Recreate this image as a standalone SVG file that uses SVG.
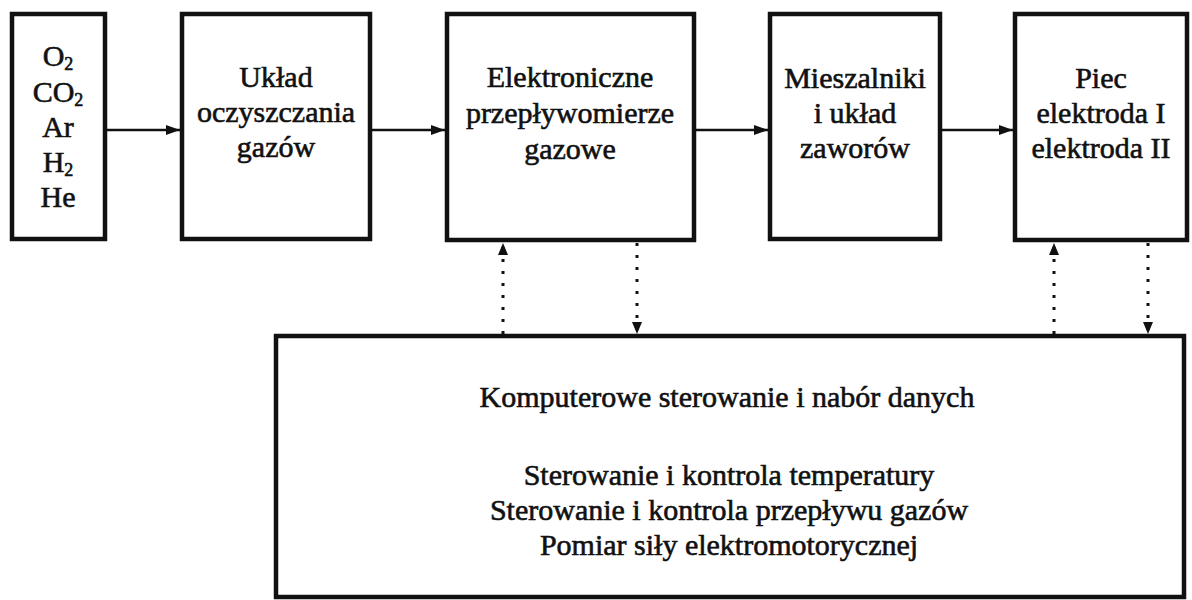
<svg xmlns="http://www.w3.org/2000/svg" width="1192" height="600" viewBox="0 0 1192 600">
<style>
.box{fill:#fff;stroke:#111;stroke-width:4.5}
.t{font-family:"Liberation Serif","Times New Roman",serif;font-size:30px;fill:#111;stroke:#111;stroke-width:0.6;text-anchor:middle}
.sub{font-size:18px}
.solid{stroke:#111;stroke-width:2.4;fill:none}
.dot{stroke:#111;stroke-width:3;fill:none;stroke-dasharray:3 9}
</style>
<defs>
<marker id="ah" viewBox="0 0 14 10" refX="14" refY="5" markerWidth="14" markerHeight="10" markerUnits="userSpaceOnUse" orient="auto">
<path d="M0,0 L14,5 L0,10 Z" fill="#111"/>
</marker>
<marker id="ahd" viewBox="0 0 12 10" refX="12" refY="5" markerWidth="12" markerHeight="10" markerUnits="userSpaceOnUse" orient="auto">
<path d="M0,0 L12,5 L0,10 Z" fill="#111"/>
</marker>
</defs>
<rect width="1192" height="600" fill="#fff"/>
<g id="connectors">
<line class="solid" x1="107" y1="130" x2="180" y2="130" marker-end="url(#ah)"/>
<line class="solid" x1="372" y1="130" x2="445" y2="130" marker-end="url(#ah)"/>
<line class="solid" x1="696" y1="130" x2="768" y2="130" marker-end="url(#ah)"/>
<line class="solid" x1="942" y1="130" x2="1013" y2="130" marker-end="url(#ah)"/>
<line class="dot" x1="503" y1="334" x2="503" y2="243" marker-end="url(#ahd)"/>
<line class="dot" x1="637" y1="243" x2="637" y2="334" marker-end="url(#ahd)"/>
<line class="dot" x1="1054" y1="334" x2="1054" y2="243" marker-end="url(#ahd)"/>
<line class="dot" x1="1148" y1="243" x2="1148" y2="334" marker-end="url(#ahd)"/>
</g>
<g id="gases">
<rect class="box" x="12" y="14" width="93" height="225"/>
<text class="t" x="58" y="66">O<tspan class="sub" dy="4">2</tspan></text>
<text class="t" x="58" y="102">CO<tspan class="sub" dy="4">2</tspan></text>
<text class="t" x="58" y="137">Ar</text>
<text class="t" x="58" y="172">H<tspan class="sub" dy="4">2</tspan></text>
<text class="t" x="58" y="207">He</text>
</g>
<g id="oczyszczanie">
<rect class="box" x="182" y="14" width="188" height="225"/>
<text class="t" x="276" y="87">Układ</text>
<text class="t" x="276" y="122">oczyszczania</text>
<text class="t" x="276" y="157">gazów</text>
</g>
<g id="przeplywomierze">
<rect class="box" x="447" y="14" width="247" height="226"/>
<text class="t" x="570" y="87">Elektroniczne</text>
<text class="t" x="570" y="123">przepływomierze</text>
<text class="t" x="570" y="159">gazowe</text>
</g>
<g id="mieszalniki">
<rect class="box" x="770" y="14" width="170" height="225"/>
<text class="t" x="855" y="88">Mieszalniki</text>
<text class="t" x="855" y="123">i układ</text>
<text class="t" x="855" y="158">zaworów</text>
</g>
<g id="piec">
<rect class="box" x="1015" y="14" width="172" height="226"/>
<text class="t" x="1101" y="88">Piec</text>
<text class="t" x="1101" y="123">elektroda I</text>
<text class="t" x="1101" y="158">elektroda II</text>
</g>
<g id="komputer">
<rect class="box" x="276" y="336" width="908" height="261"/>
<text class="t" x="727" y="407">Komputerowe sterowanie i nabór danych</text>
<text class="t" x="729" y="485">Sterowanie i kontrola temperatury</text>
<text class="t" x="729" y="520">Sterowanie i kontrola przepływu gazów</text>
<text class="t" x="729" y="555">Pomiar siły elektromotorycznej</text>
</g>
</svg>
